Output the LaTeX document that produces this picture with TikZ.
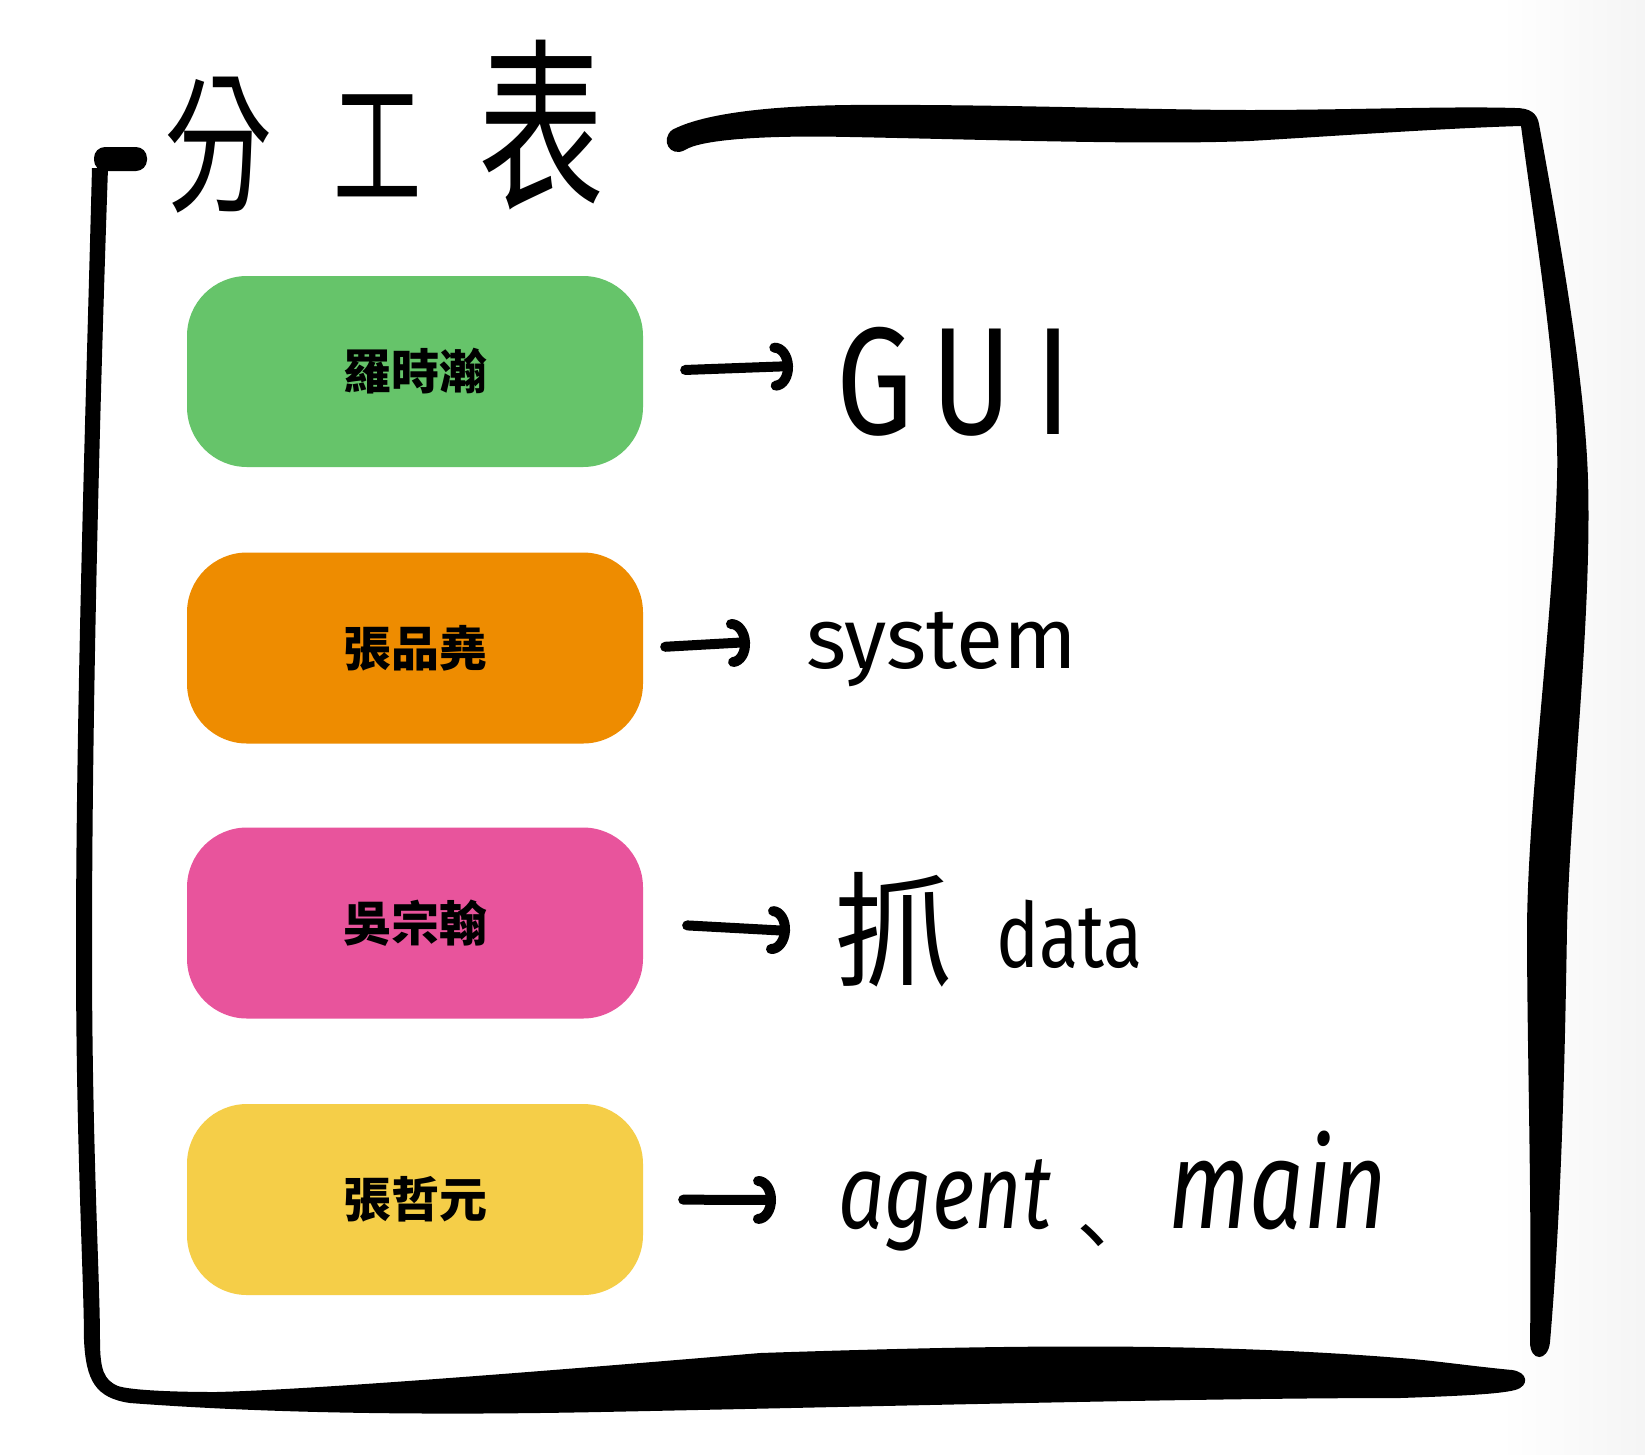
\documentclass[tikz,border=0pt]{standalone}
\usepackage{fontspec}
\usetikzlibrary{arrows.meta}
\newfontfamily\cjk{Noto Sans CJK TC}
\newfontfamily\hand{Fira Sans}
\definecolor{boxgreen}{RGB}{102,196,106}
\definecolor{boxorange}{RGB}{238,140,0}
\definecolor{boxpink}{RGB}{232,84,156}
\definecolor{boxyellow}{RGB}{245,206,72}
\begin{document}
\begin{tikzpicture}[x=1pt,y=-1pt,
  namebox/.style={rounded corners=60pt, minimum width=456pt, minimum height=191pt, inner sep=0pt, text=black, font=\cjk\bfseries\fontsize{48}{48}\selectfont},
  ink/.style={line width=10pt, line cap=round, line join=round},
  harrow/.style={ink, -{Arc Barb[length=18pt,width=48pt,round]}},
  hand/.style={inner sep=0pt, text=black},
]
% page
\fill[white] (0,0) rectangle (1645,1454);
\shade[left color=white, right color=gray!8] (1500,0) rectangle (1645,1454);
\useasboundingbox (0,0) rectangle (1645,1454);

% frame: top + right stroke
\fill (672,130)
 .. controls (700,115) and (760,106) .. (850,105)
 .. controls (1000,104) and (1150,110) .. (1250,110)
 .. controls (1350,110) and (1450,106) .. (1515,108)
 .. controls (1530,108) and (1537,113) .. (1539,124)
 .. controls (1560,240) and (1585,380) .. (1588,480)
 .. controls (1592,620) and (1570,800) .. (1567,928)
 .. controls (1565,1050) and (1562,1200) .. (1550,1342)
 .. controls (1548,1362) and (1530,1362) .. (1530,1342)
 .. controls (1532,1200) and (1527,1050) .. (1527,928)
 .. controls (1528,800) and (1553,620) .. (1557,480)
 .. controls (1560,380) and (1536,240) .. (1521,126)
 .. controls (1450,128) and (1350,135) .. (1250,141)
 .. controls (1150,145) and (1000,140) .. (850,137)
 .. controls (760,135) and (700,140) .. (685,150)
 .. controls (670,158) and (660,140) .. (672,130) -- cycle;
% frame: left + bottom stroke
\fill (92,168)
 .. controls (86,400) and (76,700) .. (76,950)
 .. controls (76,1150) and (84,1280) .. (84,1340)
 .. controls (86,1380) and (95,1398) .. (130,1403)
 .. controls (250,1412) and (400,1416) .. (600,1412)
 .. controls (900,1406) and (1200,1398) .. (1400,1398)
 .. controls (1460,1396) and (1500,1394) .. (1515,1390)
 .. controls (1530,1386) and (1528,1372) .. (1512,1370)
 .. controls (1470,1366) and (1430,1360) .. (1400,1358)
 .. controls (1200,1342) and (1000,1345) .. (760,1353)
 .. controls (500,1375) and (300,1390) .. (216,1392)
 .. controls (170,1392) and (130,1390) .. (118,1386)
 .. controls (104,1380) and (100,1370) .. (100,1340)
 .. controls (100,1280) and (92,1150) .. (92,950)
 .. controls (92,700) and (100,400) .. (108,168) -- cycle;
\fill[rounded corners=11pt] (94,147) rectangle (147,171);

% title
\node[hand, font=\cjk\fontsize{150}{150}\selectfont] (ti1) at (218,145) {\scalebox{0.72}[1]{分}};
\node[hand, font=\cjk\fontsize{140}{140}\selectfont] (ti2) at (378,146) {\scalebox{0.63}[1]{工}};
\node[hand, font=\cjk\fontsize{185}{185}\selectfont] (ti3) at (541,125) {\scalebox{0.68}[1]{表}};

% name boxes
\node[namebox, fill=boxgreen]  (b1) at (415,371.5) {羅時瀚};
\node[namebox, fill=boxorange] (b2) at (415,648)   {張品堯};
\node[namebox, fill=boxpink]   (b3) at (415,923)   {吳宗翰};
\node[namebox, fill=boxyellow] (b4) at (415,1199.5){張哲元};

% tasks
\node[hand, anchor=base west, font=\hand\fontsize{116}{116}\selectfont] (t1) at (836,434) {\scalebox{1.05}[1.32]{G\hspace{18pt}U\hspace{22pt}I}};
\node[hand, anchor=base west, font=\hand\fontsize{86}{86}\selectfont] (t2) at (806,668) {system};
\node[hand, font=\cjk\fontsize{125}{125}\selectfont] (t3) at (894,930) {\scalebox{0.95}[1]{抓}};
\node[hand, anchor=base west, font=\hand\fontsize{90}{90}\selectfont] (t4) at (996,967) {\scalebox{0.8}[1]{data}};
\node[hand, anchor=base west, font=\hand\itshape\fontsize{105}{105}\selectfont] (t5) at (838,1228) {\scalebox{0.78}[1]{agent}};
\node[hand, font=\cjk\fontsize{80}{80}\selectfont] (t6) at (1092,1245) {、};
\node[hand, anchor=base west, font=\hand\itshape\fontsize{125}{125}\selectfont] (t7) at (1168,1228) {\scalebox{0.77}[1]{main}};

% arrows
\coordinate (a1e) at (793,366);
\coordinate (a2e) at (750,642);
\coordinate (a3e) at (790,931);
\coordinate (a4e) at (776,1200);
\draw[harrow, shorten <=42pt] (b1.east) -- (a1e);
\draw[harrow, shorten <=22pt] (b2.east) -- (a2e);
\draw[harrow, shorten <=44pt] (b3.east) -- (a3e);
\draw[harrow, shorten <=40pt] (b4.east) -- (a4e);
\end{tikzpicture}
\end{document}
